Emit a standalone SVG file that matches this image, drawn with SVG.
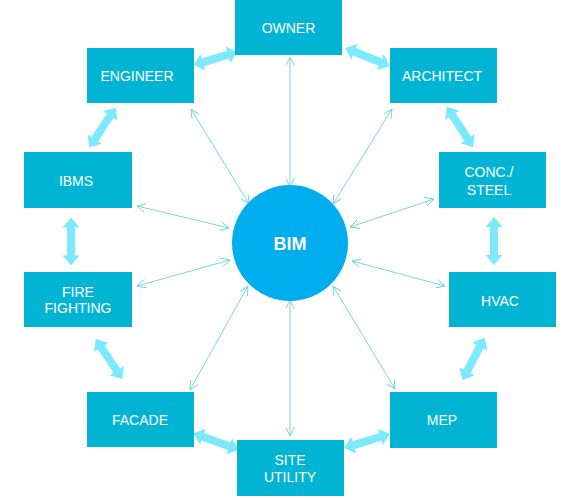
<svg xmlns="http://www.w3.org/2000/svg" width="580" height="500" viewBox="0 0 580 500">
<defs>
<style>
.box{fill:#02B4D4;}
.lbl{fill:#ffffff;font-family:"Liberation Sans",Arial,sans-serif;font-size:14px;text-anchor:middle;}
.bim{fill:#ffffff;font-family:"Liberation Sans",Arial,sans-serif;font-size:18px;font-weight:bold;text-anchor:middle;}
.thin{stroke:#66D2D8;stroke-width:0.9;fill:none;marker-start:url(#v);marker-end:url(#v);}
.thick{fill:#7DE9FF;}
</style>
<marker id="v" viewBox="0 0 10 10" refX="10" refY="5" markerWidth="9" markerHeight="9" markerUnits="userSpaceOnUse" orient="auto-start-reverse">
<path d="M0,0 L10,5 L0,10" fill="none" stroke="#66D2D8" stroke-width="1"/>
</marker>
<polygon id="dbl" points="-24,0 -14,-8.5 -14,-4 14,-4 14,-8.5 24,0 14,8.5 14,4 -14,4 -14,8.5"/>
</defs>
<rect width="580" height="500" fill="#ffffff"/>
<g id="connectors">
<line class="thin" x1="290" y1="57" x2="290" y2="187"/>
<line class="thin" x1="191" y1="109" x2="249" y2="204"/>
<line class="thin" x1="392" y1="109" x2="333" y2="204"/>
<line class="thin" x1="137" y1="206" x2="229" y2="228"/>
<line class="thin" x1="137" y1="286" x2="230" y2="260"/>
<line class="thin" x1="434" y1="199" x2="350" y2="227"/>
<line class="thin" x1="445" y1="286" x2="352" y2="261"/>
<line class="thin" x1="333" y1="286" x2="395" y2="389"/>
<line class="thin" x1="190" y1="390" x2="248" y2="286"/>
<line class="thin" x1="290" y1="300" x2="290" y2="436"/>
<g class="thick">
<use href="#dbl" transform="translate(215.5,58.5) rotate(-16.8) scale(0.94,1)"/>
<use href="#dbl" transform="translate(367.5,57) rotate(21.8)"/>
<use href="#dbl" transform="translate(460,127) rotate(57)"/>
<use href="#dbl" transform="translate(494,241) rotate(90)"/>
<use href="#dbl" transform="translate(473.5,359) rotate(117.6)"/>
<use href="#dbl" transform="translate(367,441) rotate(163)"/>
<use href="#dbl" transform="translate(216,441.5) rotate(20.3)"/>
<use href="#dbl" transform="translate(109,359) rotate(56.3)"/>
<use href="#dbl" transform="translate(71,241.5) rotate(90)"/>
<use href="#dbl" transform="translate(102.5,127.5) rotate(123.4)"/>
</g>
</g>
<g id="bim"><circle cx="290" cy="243" r="58" fill="#00AEEF"/><text class="bim" x="290" y="250">BIM</text></g>
<g id="owner"><rect class="box" x="235" y="0" width="107" height="55"/><text class="lbl" x="288.5" y="33">OWNER</text></g>
<g id="engineer"><rect class="box" x="87" y="48" width="107" height="55"/><text class="lbl" x="137" y="81">ENGINEER</text></g>
<g id="architect"><rect class="box" x="390" y="48" width="107" height="55"/><text class="lbl" x="442" y="81">ARCHITECT</text></g>
<g id="ibms"><rect class="box" x="24" y="152" width="108" height="56"/><text class="lbl" x="76" y="186">IBMS</text></g>
<g id="conc-steel"><rect class="box" x="439" y="152" width="107" height="56"/><text class="lbl" x="489" y="177">CONC./</text><text class="lbl" x="489" y="195">STEEL</text></g>
<g id="fire-fighting"><rect class="box" x="24" y="272" width="108" height="55"/><text class="lbl" x="78" y="297">FIRE</text><text class="lbl" x="78" y="313">FIGHTING</text></g>
<g id="hvac"><rect class="box" x="449" y="272" width="107" height="55"/><text class="lbl" x="500" y="306">HVAC</text></g>
<g id="facade"><rect class="box" x="87" y="392" width="107" height="55"/><text class="lbl" x="140" y="425">FACADE</text></g>
<g id="mep"><rect class="box" x="390" y="392" width="107" height="56"/><text class="lbl" x="442" y="425">MEP</text></g>
<g id="site-utility"><rect class="box" x="237" y="440" width="107" height="56"/><text class="lbl" x="290" y="465">SITE</text><text class="lbl" x="290" y="482">UTILITY</text></g>
</svg>
